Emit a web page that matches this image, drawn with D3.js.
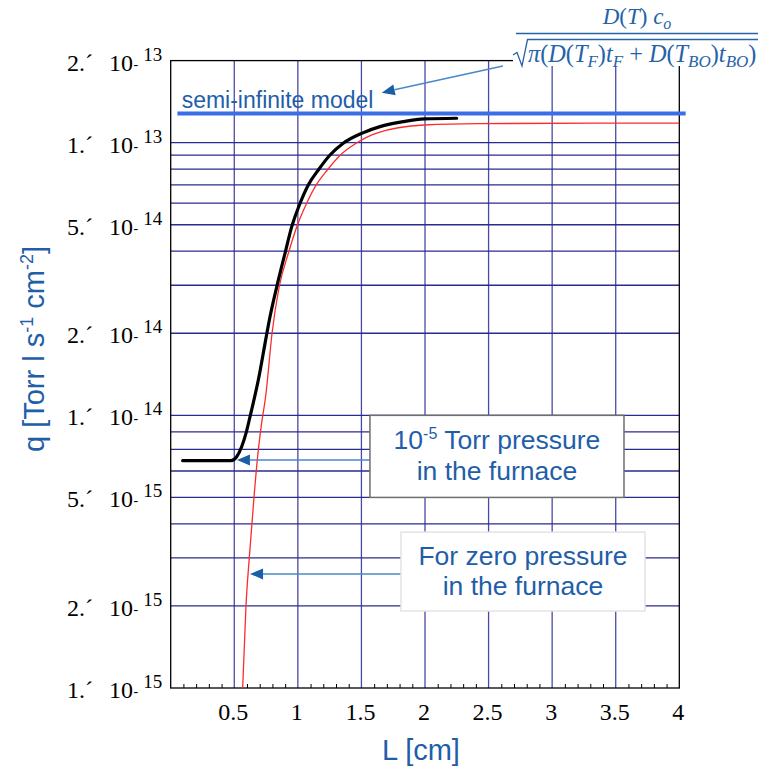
<!DOCTYPE html>
<html>
<head>
<meta charset="utf-8">
<script src="https://cdn.jsdelivr.net/npm/d3@7"></script>
<style>
  body { margin: 0; background: #fff; }
  svg { display: block; }
</style>
</head>
<body>
<svg id="chart" width="769" height="769"></svg>
<script>
// Outgassing flux q versus sample half-thickness L (log scale on q)

// 10^-5 Torr furnace pressure
const blackL = [0.094, 0.474, 0.519, 0.558, 0.592, 0.624, 0.700, 0.728, 0.781, 0.834, 0.899, 0.952,
                1.009, 1.082, 1.161, 1.253, 1.357, 1.502, 1.646, 1.829, 1.994, 2.249];
const blackQ = [6.82e-15, 6.82e-15, 7.05e-15, 7.67e-15, 8.59e-15, 9.89e-15, 1.43e-14, 1.689e-14, 2.30e-14,
                2.96e-14, 3.93e-14, 4.92e-14, 5.86e-14, 7.0e-14, 7.94e-14, 9.01e-14, 9.95e-14, 1.082e-13,
                1.145e-13, 1.194e-13, 1.222e-13, 1.229e-13];

// zero furnace pressure
const redL = [0.566, 0.592, 0.618, 0.655, 0.681, 0.708, 0.750, 0.797, 0.853, 0.926, 0.991, 1.063,
              1.145, 1.232, 1.335, 1.461, 1.620, 1.994, 2.42, 4.0];
const redQ = [1.0e-15, 2.0e-15, 3.0e-15, 5.0e-15, 6.86e-15, 8.84e-15, 1.208e-14, 2.0e-14, 2.956e-14,
              3.94e-14, 4.91e-14, 5.91e-14, 7.0e-14, 7.94e-14, 9.01e-14, 9.97e-14, 1.085e-13, 1.161e-13,
              1.175e-13, 1.18e-13];

// semi-infinite model level
const semiL = [0.053, 4.05];
const semiQ = 1.28e-13;

// axes
const xTicks = [0.5, 1, 1.5, 2, 2.5, 3, 3.5, 4];
const xTickLabels = ["0.5", "1", "1.5", "2", "2.5", "3", "3.5", "4"];
const xGrid = [0.5, 1, 1.5, 2, 2.5, 3, 3.5];
const xMinor = [0.1, 0.2, 0.3, 0.4, 0.6, 0.7, 0.8, 0.9, 1.1, 1.2, 1.3, 1.4, 1.6, 1.7, 1.8, 1.9,
                2.1, 2.2, 2.3, 2.4, 2.6, 2.7, 2.8, 2.9, 3.1, 3.2, 3.3, 3.4, 3.6, 3.7, 3.8, 3.9];
const yTicks = [1e-15, 2e-15, 5e-15, 1e-14, 2e-14, 5e-14, 1e-13, 2e-13];
const yTickMantissas = ["1.", "2.", "5.", "1.", "2.", "5.", "1.", "2."];
const yTickExponents = ["15", "15", "15", "14", "14", "14", "13", "13"];
const yGrid = [2e-15, 3e-15, 4e-15, 5e-15, 6.25e-15, 7.5e-15, 8.7e-15, 1e-14,
               2e-14, 3e-14, 4e-14, 5e-14, 6e-14, 7e-14, 8e-14, 9e-14, 1e-13];

const BLUE = "#1f5ea8";
const SERIF = "'Liberation Serif', 'Times New Roman', serif";
const SANS = "'Liberation Sans', Arial, sans-serif";

const plot = { left: 170.7, right: 679.3, top: 60.6, bottom: 688 };
const x = d3.scaleLinear().domain([0, 4]).range([plot.left, plot.right]);
const y = d3.scaleLog().domain([1e-15, 2e-13]).range([plot.bottom, plot.top]);

const svg = d3.select("#chart");

svg.append("defs").append("clipPath").attr("id", "plotClip")
  .append("rect")
  .attr("x", plot.left).attr("y", plot.top)
  .attr("width", plot.right - plot.left).attr("height", plot.bottom - plot.top);

// grid
const grid = svg.append("g").attr("stroke-width", 1.3);
grid.selectAll("line.gv").data(xGrid).join("line").attr("class", "gv")
  .attr("stroke", "#4a4aa6")
  .attr("x1", d => x(d)).attr("x2", d => x(d))
  .attr("y1", plot.top).attr("y2", plot.bottom);
grid.selectAll("line.gh").data(yGrid).join("line").attr("class", "gh")
  .attr("stroke", "#2a2a90")
  .attr("x1", plot.left).attr("x2", plot.right)
  .attr("y1", d => y(d)).attr("y2", d => y(d));

// minor ticks on the L axis
const minorAxis = svg.append("g").attr("transform", `translate(0,${plot.bottom})`)
  .call(d3.axisBottom(x).tickValues(xMinor).tickSize(-4).tickFormat(""));
minorAxis.select(".domain").remove();
minorAxis.selectAll(".tick line").attr("stroke", "#000").attr("stroke-width", 1);

// L axis labels
const xAxisG = svg.append("g").attr("transform", `translate(0,${plot.bottom})`)
  .call(d3.axisBottom(x).tickValues(xTicks).tickSize(0).tickFormat((d, i) => xTickLabels[i]));
xAxisG.select(".domain").remove();
xAxisG.selectAll("text")
  .attr("x", -1.5).attr("y", 32).attr("dy", 0)
  .attr("font-family", SERIF).attr("font-size", 24).attr("fill", "#000");

// q axis labels in the form "2.´ 10- 13"
const yAxisG = svg.append("g").attr("transform", `translate(${plot.left},0)`)
  .call(d3.axisLeft(y).tickValues(yTicks).tickSize(0).tickFormat(""));
yAxisG.select(".domain").remove();
yAxisG.selectAll(".tick").each(function (d, i) {
  const t = d3.select(this).append("text")
    .attr("x", 67 - plot.left).attr("y", 9.4)
    .attr("text-anchor", "start")
    .attr("font-family", SERIF).attr("font-size", 24).attr("fill", "#000");
  t.append("tspan").text(yTickMantissas[i] + "\u00B4");
  t.append("tspan").attr("dx", 16).text("10");
  t.append("tspan").attr("font-size", 14).attr("dx", 0.5).attr("dy", -2).text("-");
  t.append("tspan").attr("font-size", 19).attr("dx", 5).attr("dy", -8).text(yTickExponents[i]);
});

// frame
svg.append("rect")
  .attr("x", plot.left).attr("y", plot.top)
  .attr("width", plot.right - plot.left).attr("height", plot.bottom - plot.top)
  .attr("fill", "none").attr("stroke", "#000").attr("stroke-width", 1.3);

// curves
const line = d3.line().x(d => x(d[0])).y(d => y(d[1])).curve(d3.curveMonotoneX);
const curves = svg.append("g").attr("clip-path", "url(#plotClip)");
curves.append("path")
  .attr("d", line(redL.map((v, i) => [v, redQ[i]])))
  .attr("fill", "none").attr("stroke", "#ff2a2a").attr("stroke-width", 1.3);
curves.append("path")
  .attr("d", line(blackL.map((v, i) => [v, blackQ[i]])))
  .attr("fill", "none").attr("stroke", "#000").attr("stroke-width", 3.2)
  .attr("stroke-linejoin", "round").attr("stroke-linecap", "round");

// semi-infinite model
svg.append("line")
  .attr("x1", x(semiL[0])).attr("x2", x(semiL[1]))
  .attr("y1", y(semiQ)).attr("y2", y(semiQ))
  .attr("stroke", "#3a6ee6").attr("stroke-width", 4);
svg.append("text")
  .attr("x", x(0.086)).attr("y", y(semiQ) - 5)
  .attr("font-family", SANS).attr("font-size", 23).attr("fill", BLUE)
  .text("semi-infinite model");

// arrows
function arrow(from, to) {
  const x0 = x(from[0]), y0 = y(from[1]), x1 = x(to[0]), y1 = y(to[1]);
  const a = Math.atan2(y1 - y0, x1 - x0);
  const len = 13, half = 5.5;
  const bx = x1 - len * Math.cos(a), by = y1 - len * Math.sin(a);
  svg.append("line")
    .attr("x1", x0).attr("y1", y0).attr("x2", bx).attr("y2", by)
    .attr("stroke", "#4a88c7").attr("stroke-width", 1.5);
  const px = -Math.sin(a) * half, py = Math.cos(a) * half;
  svg.append("path")
    .attr("d", `M${x1},${y1}L${bx + px},${by + py}L${bx - px},${by - py}Z`)
    .attr("fill", "#1b5ea8");
}
arrow([1.567, 6.86e-15], [0.521, 6.86e-15]);
arrow([1.811, 2.62e-15], [0.624, 2.62e-15]);
arrow([2.613, 1.911e-13], [1.66, 1.526e-13]);

// annotation boxes
function noteBox(l0, l1, qTop, qBottom, stroke, build) {
  const bx = x(l0), bw = x(l1) - x(l0), by = y(qTop), bh = y(qBottom) - y(qTop);
  svg.append("rect").attr("x", bx).attr("y", by).attr("width", bw).attr("height", bh)
    .attr("fill", "#fff").attr("stroke", stroke).attr("stroke-width", 1.5);
  build(bx + bw / 2, by);
}
noteBox(1.567, 3.565, 1e-14, 5e-15, "#6e6e6e", (cx, top) => {
  const t1 = svg.append("text").attr("x", cx).attr("y", top + 34)
    .attr("text-anchor", "middle").attr("font-family", SANS).attr("font-size", 26.5).attr("fill", BLUE);
  t1.append("tspan").text("10");
  t1.append("tspan").attr("font-size", 16).attr("dy", -10).text("-5");
  t1.append("tspan").attr("dy", 10).text(" Torr pressure");
  svg.append("text").attr("x", cx).attr("y", top + 65)
    .attr("text-anchor", "middle").attr("font-family", SANS).attr("font-size", 26.5).attr("fill", BLUE)
    .text("in the furnace");
});
noteBox(1.811, 3.73, 3.73e-15, 1.916e-15, "#e4e4e4", (cx, top) => {
  svg.append("text").attr("x", cx).attr("y", top + 33)
    .attr("text-anchor", "middle").attr("font-family", SANS).attr("font-size", 26.5).attr("fill", BLUE)
    .text("For zero pressure");
  svg.append("text").attr("x", cx).attr("y", top + 63)
    .attr("text-anchor", "middle").attr("font-family", SANS).attr("font-size", 26.5).attr("fill", BLUE)
    .text("in the furnace");
});

// axis titles
const yTitle = svg.append("text")
  .attr("transform", "translate(44,349) rotate(-90)")
  .attr("text-anchor", "middle").attr("font-family", SANS).attr("font-size", 29).attr("fill", BLUE);
yTitle.append("tspan").text("q [Torr l s");
yTitle.append("tspan").attr("font-size", 18).attr("dy", -11).text("-1");
yTitle.append("tspan").attr("dy", 11).text(" cm");
yTitle.append("tspan").attr("font-size", 18).attr("dy", -11).text("-2");
yTitle.append("tspan").attr("dy", 11).text("]");

svg.append("text")
  .attr("x", 421).attr("y", 760)
  .attr("text-anchor", "middle").attr("font-family", SANS).attr("font-size", 29).attr("fill", BLUE)
  .text("L [cm]");

// semi-infinite flux expression
const FBLUE = "#2563a8";
const formula = svg.append("g");
formula.append("rect").attr("x", 513).attr("y", 0).attr("width", 256).attr("height", 66).attr("fill", "#fff");

function mathText(xPos, yPos, anchor, size, parts) {
  const t = formula.append("text")
    .attr("x", xPos).attr("y", yPos).attr("text-anchor", anchor)
    .attr("font-family", SERIF).attr("font-size", size).attr("fill", FBLUE);
  const subSize = Math.round(size * 0.68);
  let shifted = false;
  parts.forEach(p => {
    const s = t.append("tspan").text(p.t);
    if (p.i) s.attr("font-style", "italic");
    if (p.sub && !shifted) { s.attr("font-size", subSize).attr("dy", 5); shifted = true; }
    else if (p.sub) { s.attr("font-size", subSize); }
    else if (shifted) { s.attr("dy", -5); shifted = false; }
  });
  return t;
}
mathText(637, 24, "middle", 23, [
  { t: "D", i: 1 }, { t: "(" }, { t: "T", i: 1 }, { t: ") " }, { t: "c", i: 1 }, { t: "o", i: 1, sub: 1 }
]);
formula.append("line").attr("x1", 516).attr("x2", 758).attr("y1", 33.5).attr("y2", 33.5)
  .attr("stroke", FBLUE).attr("stroke-width", 1.5);
formula.append("path").attr("d", "M513,55L517,52.5L522,66L527.5,39.5L758,39.5")
  .attr("fill", "none").attr("stroke", FBLUE).attr("stroke-width", 1.3);
mathText(528, 62, "start", 24.3, [
  { t: "\u03C0", i: 1 }, { t: "(" }, { t: "D", i: 1 }, { t: "(" }, { t: "T", i: 1 }, { t: "F", i: 1, sub: 1 },
  { t: ")" }, { t: "t", i: 1 }, { t: "F", i: 1, sub: 1 }, { t: " + " }, { t: "D", i: 1 }, { t: "(" },
  { t: "T", i: 1 }, { t: "BO", i: 1, sub: 1 }, { t: ")" }, { t: "t", i: 1 }, { t: "BO", i: 1, sub: 1 }, { t: ")" }
]);
</script>
</body>
</html>
